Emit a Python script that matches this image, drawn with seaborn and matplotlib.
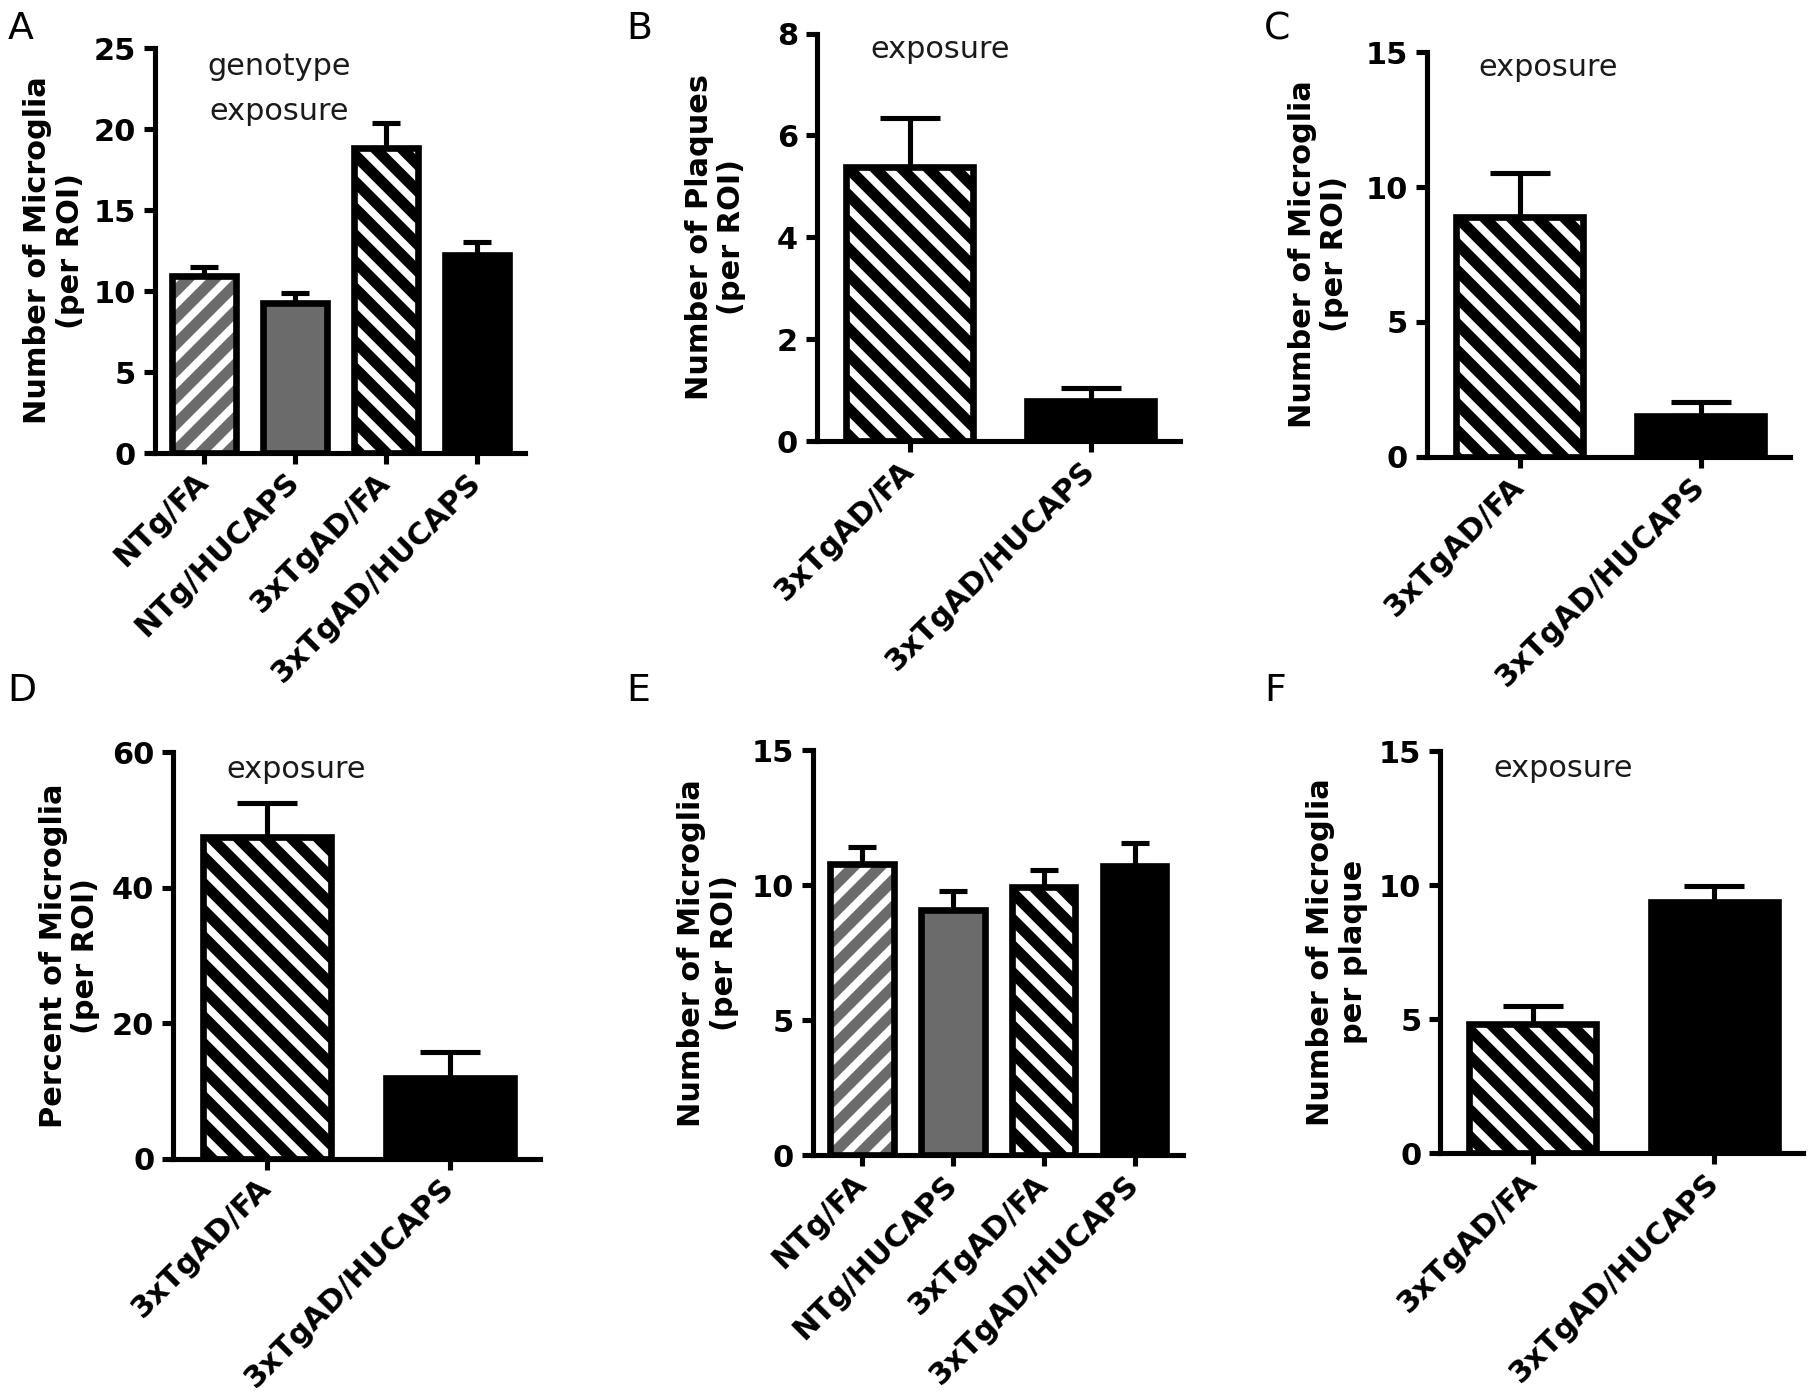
import matplotlib
matplotlib.use("Agg")
import matplotlib.pyplot as plt
import seaborn as sns
import pandas as pd
import numpy as np
from matplotlib.patches import Rectangle

# ---------------- data ----------------
four_groups = ["NTg/FA", "NTg/HUCAPS", "3xTgAD/FA", "3xTgAD/HUCAPS"]
two_groups = ["3xTgAD/FA", "3xTgAD/HUCAPS"]

a_mean = [10.9, 9.25, 18.85, 12.25]
a_sem = [0.6, 0.65, 1.55, 0.75]
b_mean = [5.38, 0.78]
b_sem = [0.97, 0.27]
c_mean = [8.9, 1.5]
c_sem = [1.62, 0.52]
d_mean = [47.5, 11.9]
d_sem = [5.0, 3.9]
e_mean = [10.8, 9.1, 9.95, 10.72]
e_sem = [0.63, 0.70, 0.60, 0.83]
f_mean = [4.8, 9.37]
f_sem = [0.68, 0.60]

a_ticks = [0, 5, 10, 15, 20, 25]
b_ticks = [0, 2, 4, 6, 8]
c_ticks = [0, 5, 10, 15]
d_ticks = [0, 20, 40, 60]
e_ticks = [0, 5, 10, 15]
f_ticks = [0, 5, 10, 15]

# ---------------- style ----------------
sns.set_theme(style="ticks")
plt.rcParams["font.family"] = ["DejaVu Sans"]
plt.rcParams["hatch.linewidth"] = 3.5

GRAY = "#6b6b6b"
STYLE = {
    "NTg/FA": (GRAY, "//"),
    "NTg/HUCAPS": (GRAY, None),
    "3xTgAD/FA": ("#000000", "\\\\"),
    "3xTgAD/HUCAPS": ("#000000", None),
}
FS = 13.7
LW_AX = 2.3
LW_BAR = 3.0

fig = plt.figure(figsize=(11.3375, 8.725), dpi=160)


def panel(rect, letter, letter_xy, groups, means, sems, ticks, ylabel,
          ylabel_x, annots, capsize):
    ax = fig.add_axes(rect)
    df = pd.DataFrame({"group": groups, "value": means})
    palette = {g: STYLE[g][0] for g in groups}
    sns.barplot(data=df, x="group", y="value", hue="group", order=groups,
                hue_order=groups, palette=palette, saturation=1, width=0.7,
                errorbar=None, legend=False, linewidth=0, ax=ax)
    bars = list(ax.patches)
    for p, g in zip(bars, groups):
        p.set_zorder(2)
        hatch = STYLE[g][1]
        if hatch:
            ax.add_patch(Rectangle((p.get_x(), p.get_y()), p.get_width(), p.get_height(),
                                   facecolor="none", edgecolor="white", hatch=hatch,
                                   linewidth=0, zorder=2.1))
        ax.add_patch(Rectangle((p.get_x(), p.get_y()), p.get_width(), p.get_height(),
                               facecolor="none", edgecolor="black",
                               linewidth=LW_BAR, zorder=2.2))
    n = len(groups)
    ax.errorbar(np.arange(n), means, yerr=[np.zeros(n), sems], fmt="none",
                ecolor="black", elinewidth=LW_AX, capsize=capsize,
                capthick=LW_AX, zorder=1.5)
    ax.set_ylim(ticks[0], ticks[-1])
    if n == 4:
        ax.set_xlim(-0.54, 3.53)
    else:
        ax.set_xlim(-0.51, 1.49)
    ax.set_yticks(ticks)
    ax.set_xticks(np.arange(n))
    ax.set_xticklabels(groups, rotation=45, ha="right", va="center",
                       rotation_mode="anchor")
    sns.despine(ax=ax)
    for s in ("left", "bottom"):
        ax.spines[s].set_linewidth(LW_AX)
        ax.spines[s].set_color("black")
    ax.tick_params(axis="both", width=LW_AX, length=5, color="black",
                   labelsize=FS, labelcolor="black")
    ax.tick_params(axis="y", pad=3.5)
    ax.tick_params(axis="x", pad=6)
    for lbl in ax.get_xticklabels() + ax.get_yticklabels():
        lbl.set_fontweight("bold")
    ax.set_xlabel("")
    ax.set_ylabel(ylabel, fontsize=FS, fontweight="bold", color="black",
                  linespacing=1.15)
    ax.yaxis.set_label_coords(ylabel_x, 0.5)
    for (tx, ty, t) in annots:
        ax.text(tx, ty, t, transform=ax.transAxes, ha="center", va="center",
                fontsize=FS, color="#1a1a1a")
    fig.text(letter_xy[0], letter_xy[1], letter, fontsize=17, va="top",
             ha="left", color="black")
    return ax


panel([0.0854, 0.6755, 0.204, 0.290], "A", (0.004, 0.992), four_groups,
      a_mean, a_sem, a_ticks, "Number of Microglia\n(per ROI)", -0.19,
      [(0.335, 0.954, "genotype"), (0.335, 0.843, "exposure")], 6.3)
panel([0.4504, 0.684, 0.200, 0.292], "B", (0.345, 0.992), two_groups,
      b_mean, b_sem, b_ticks, "Number of Plaques\n(per ROI)", -0.195,
      [(0.34, 0.96, "exposure")], 13.5)
panel([0.7867, 0.6727, 0.200, 0.290], "C", (0.697, 0.992), two_groups,
      c_mean, c_sem, c_ticks, "Number of Microglia\n(per ROI)", -0.215,
      [(0.335, 0.963, "exposure")], 13.5)
panel([0.0955, 0.1700, 0.202, 0.291], "D", (0.004, 0.518), two_groups,
      d_mean, d_sem, d_ticks, "Percent of Microglia\n(per ROI)", -0.2,
      [(0.335, 0.958, "exposure")], 13.5)
panel([0.448, 0.1725, 0.204, 0.290], "E", (0.345, 0.518), four_groups,
      e_mean, e_sem, e_ticks, "Number of Microglia\n(per ROI)", -0.2,
      [], 6.3)
panel([0.794, 0.174, 0.200, 0.288], "F", (0.697, 0.518), two_groups,
      f_mean, f_sem, f_ticks, "Number of Microglia\nper plaque", -0.2,
      [(0.339, 0.957, "exposure")], 13.5)

fig.savefig("out.png", dpi=160, facecolor="white")
